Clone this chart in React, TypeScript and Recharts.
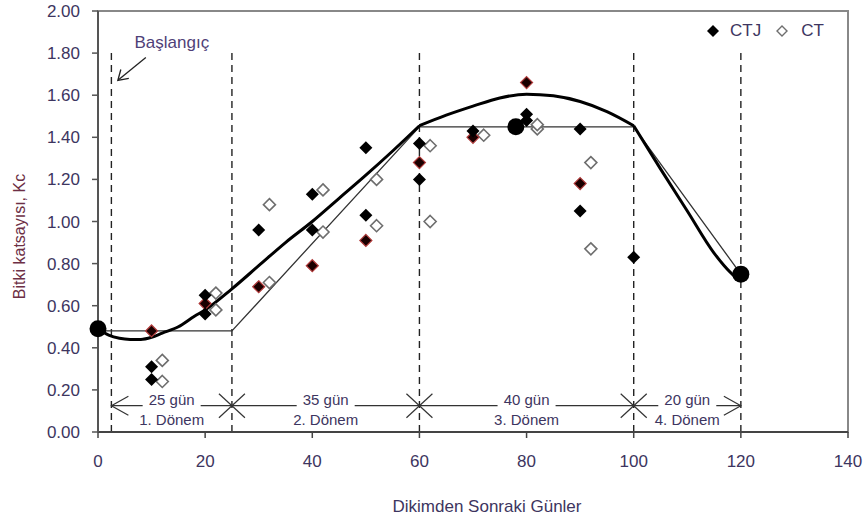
import {
  ComposedChart,
  Line,
  Scatter,
  XAxis,
  YAxis,
  ReferenceLine,
  ReferenceDot,
  ReferenceArea,
  Legend,
} from 'recharts';

const FONT = '"Liberation Sans", Arial, sans-serif';
const TEXT = '#3d3560';

const xTicks = [0, 20, 40, 60, 80, 100, 120, 140];
const yTicks = [0, 0.2, 0.4, 0.6, 0.8, 1.0, 1.2, 1.4, 1.6, 1.8, 2.0];

// CTJ measurements (filled diamonds)
const ctj = [
  { x: 10, y: 0.31 }, { x: 10, y: 0.25 },
  { x: 20, y: 0.65 }, { x: 20, y: 0.56 },
  { x: 30, y: 0.96 },
  { x: 40, y: 1.13 }, { x: 40, y: 0.96 },
  { x: 50, y: 1.35 }, { x: 50, y: 1.03 },
  { x: 60, y: 1.37 }, { x: 60, y: 1.2 },
  { x: 70, y: 1.43 },
  { x: 80, y: 1.51 }, { x: 80, y: 1.48 },
  { x: 90, y: 1.44 }, { x: 90, y: 1.05 },
  { x: 100, y: 0.83 },
];

// dark red edged diamonds (no legend entry)
const ctjRed = [
  { x: 10, y: 0.48 }, { x: 20, y: 0.61 }, { x: 30, y: 0.69 },
  { x: 40, y: 0.79 }, { x: 50, y: 0.91 }, { x: 60, y: 1.28 },
  { x: 70, y: 1.4 }, { x: 80, y: 1.66 }, { x: 90, y: 1.18 },
];

// CT measurements (open diamonds)
const ct = [
  { x: 12, y: 0.34 }, { x: 12, y: 0.24 },
  { x: 22, y: 0.66 }, { x: 22, y: 0.58 },
  { x: 32, y: 1.08 }, { x: 32, y: 0.71 },
  { x: 42, y: 1.15 }, { x: 42, y: 0.95 },
  { x: 52, y: 1.2 }, { x: 52, y: 0.98 },
  { x: 62, y: 1.36 }, { x: 62, y: 1.0 },
  { x: 72, y: 1.41 },
  { x: 82, y: 1.44 }, { x: 82, y: 1.46 },
  { x: 92, y: 1.28 }, { x: 92, y: 0.87 },
];

// Kc reference points (big dots)
const kcPoints = [
  { x: 0, y: 0.49 }, { x: 78, y: 1.45 }, { x: 120, y: 0.75 },
];

// fitted curve (thick), in three pieces so the corners at 60 and 100 stay sharp
const fitEarly = [
  { x: 0, y: 0.49 }, { x: 2, y: 0.46 }, { x: 4, y: 0.445 }, { x: 6, y: 0.44 },
  { x: 8, y: 0.44 }, { x: 10, y: 0.45 }, { x: 12, y: 0.47 }, { x: 15, y: 0.5 },
  { x: 18, y: 0.55 }, { x: 20, y: 0.58 }, { x: 25, y: 0.68 }, { x: 30, y: 0.79 },
  { x: 35, y: 0.9 }, { x: 40, y: 1.0 }, { x: 45, y: 1.11 }, { x: 50, y: 1.22 },
  { x: 55, y: 1.335 }, { x: 60, y: 1.455 },
];
const fitMid = [
  { x: 60, y: 1.455 }, { x: 65, y: 1.505 }, { x: 70, y: 1.548 }, { x: 75, y: 1.587 },
  { x: 80, y: 1.605 }, { x: 85, y: 1.597 }, { x: 90, y: 1.57 },
  { x: 95, y: 1.522 }, { x: 100, y: 1.455 },
];
const fitLate = [
  { x: 100, y: 1.455 }, { x: 105, y: 1.25 }, { x: 110, y: 1.05 }, { x: 115, y: 0.85 },
  { x: 118, y: 0.76 }, { x: 119.5, y: 0.73 }, { x: 120, y: 0.74 },
];

// FAO stage line (thin)
const stageLine = [
  { x: 0, y: 0.48 }, { x: 25, y: 0.48 }, { x: 60, y: 1.45 },
  { x: 100, y: 1.45 }, { x: 120, y: 0.75 },
];

const periods = [
  { start: 2.5, end: 25, days: '25 gün', name: '1. Dönem' },
  { start: 25, end: 60, days: '35 gün', name: '2. Dönem' },
  { start: 60, end: 100, days: '40 gün', name: '3. Dönem' },
  { start: 100, end: 120, days: '20 gün', name: '4. Dönem' },
];
const boundaries = [2.5, 25, 60, 100, 120];
const periodY = 0.125;
const guideTop = 1.8;
const startNote = { x: 3.7, y: 1.67, text: 'Başlangıç' };

const diamond = (cx: number, cy: number, r: number) =>
  `${cx},${cy - r} ${cx + r},${cy} ${cx},${cy + r} ${cx - r},${cy}`;

const FilledDiamond = (p: any) => (
  <polygon points={diamond(p.cx, p.cy, 6.5)} fill="#000" />
);
const RedDiamond = (p: any) => (
  <polygon points={diamond(p.cx, p.cy, 6)} fill="#1a0000" stroke="#b03a3a" strokeWidth={1.2} />
);
const OpenDiamond = (p: any) => (
  <polygon points={diamond(p.cx, p.cy, 6)} fill="#fff" stroke="#6e6e6e" strokeWidth={1.6} />
);
const BigDot = (p: any) => <circle cx={p.cx} cy={p.cy} r={8.5} fill="#000" />;

const boundaryMark = (i: number) => (p: any) => {
  const { cx, cy } = p;
  const s = { stroke: '#333', strokeWidth: 1.2, fill: 'none' };
  if (i === 0) {
    return <polyline points={`${cx + 17},${cy - 9.5} ${cx},${cy} ${cx + 17},${cy + 9.5}`} {...s} />;
  }
  if (i === boundaries.length - 1) {
    return <polyline points={`${cx - 17},${cy - 9.5} ${cx},${cy} ${cx - 17},${cy + 9.5}`} {...s} />;
  }
  return (
    <g {...s}>
      <line x1={cx - 13} y1={cy - 12} x2={cx + 13} y2={cy + 12} />
      <line x1={cx - 13} y1={cy + 12} x2={cx + 13} y2={cy - 12} />
    </g>
  );
};

const periodLabel = (days: string, name: string) => (p: any) => {
  const { cx, cy } = p;
  return (
    <g fontFamily={FONT} fill={TEXT} fontSize={15} textAnchor="middle">
      <rect x={cx - 29} y={cy - 8} width={58} height={12} fill="#fff" />
      <text x={cx} y={cy - 1}>{days}</text>
      <text x={cx} y={cy + 19}>{name}</text>
    </g>
  );
};

const StartNote = (p: any) => {
  const { cx, cy } = p;
  return (
    <g>
      <line x1={cx + 28} y1={cy - 23} x2={cx + 1} y2={cy - 1} stroke="#222" strokeWidth={1.3} />
      <polyline points={`${cx + 3},${cy - 11} ${cx},${cy} ${cx + 11},${cy - 2}`} stroke="#222" strokeWidth={1.3} fill="none" />
      <text x={cx + 54} y={cy - 32} textAnchor="middle" fontFamily={FONT} fontSize={17} fill="#4f3f78">
        {startNote.text}
      </text>
    </g>
  );
};

const YTitle = (p: any) => {
  const vb = p.viewBox;
  const x = vb.x + 19;
  const y = vb.y + vb.height / 2 + 15;
  return (
    <text x={x} y={y} transform={`rotate(-90 ${x} ${y})`} textAnchor="middle" dominantBaseline="central"
      fontFamily={FONT} fontSize={16} fill="#6d2f45">
      Bitki katsayısı, Kc
    </text>
  );
};

const XTitle = (p: any) => {
  const vb = p.viewBox;
  return (
    <text x={vb.x + vb.width / 2 + 14} y={506} textAnchor="middle" dominantBaseline="central"
      fontFamily={FONT} fontSize={17} fill={TEXT}>
      Dikimden Sonraki Günler
    </text>
  );
};

const LegendBox = () => (
  <div style={{ display: 'flex', alignItems: 'center', fontFamily: FONT, fontSize: 17, color: TEXT }}>
    <svg width={14} height={14}><polygon points={diamond(7, 7, 6)} fill="#000" /></svg>
    <span style={{ marginLeft: 10 }}>CTJ</span>
    <svg width={14} height={14} style={{ marginLeft: 14 }}>
      <polygon points={diamond(7, 7, 5)} fill="#fff" stroke="#6e6e6e" strokeWidth={1.4} />
    </svg>
    <span style={{ marginLeft: 12 }}>CT</span>
  </div>
);

export default function App() {
  return (
    <div style={{ position: 'absolute', left: 0, top: 0, background: '#fff' }}>
      <ComposedChart width={868} height={527} margin={{ top: 11, right: 20, bottom: 0, left: 0 }}>
        <XAxis
          type="number"
          dataKey="x"
          domain={[0, 140]}
          ticks={xTicks}
          height={95}
          tickSize={6}
          tickMargin={17}
          tick={{ fill: TEXT, fontSize: 17, fontFamily: FONT }}
          axisLine={{ stroke: '#444', strokeWidth: 2 }}
          tickLine={{ stroke: '#444', strokeWidth: 1.5 }}
          label={<XTitle />}
        />
        <YAxis
          type="number"
          dataKey="y"
          domain={[0, 2]}
          ticks={yTicks}
          width={98}
          tickSize={6}
          tickMargin={12}
          tickFormatter={(v: number) => v.toFixed(2)}
          tick={{ fill: TEXT, fontSize: 17, fontFamily: FONT }}
          axisLine={{ stroke: '#555', strokeWidth: 2 }}
          tickLine={{ stroke: '#555', strokeWidth: 1.5 }}
          label={<YTitle />}
        />
        <ReferenceArea x1={0} x2={140} y1={0} y2={2} fill="none" stroke="#888" strokeWidth={2} />

        {boundaries.map((b) => (
          <ReferenceLine
            key={`v${b}`}
            segment={[{ x: b, y: 0 }, { x: b, y: guideTop }]}
            stroke="#222"
            strokeWidth={1.4}
            strokeDasharray="7 5"
          />
        ))}
        <ReferenceLine
          segment={[{ x: boundaries[0], y: periodY }, { x: boundaries[boundaries.length - 1], y: periodY }]}
          stroke="#333"
          strokeWidth={1.2}
        />
        {boundaries.map((b, i) => (
          <ReferenceDot key={`m${b}`} x={b} y={periodY} r={0} shape={boundaryMark(i)} />
        ))}
        {periods.map((p) => (
          <ReferenceDot
            key={p.name}
            x={(p.start + p.end) / 2}
            y={periodY}
            r={0}
            shape={periodLabel(p.days, p.name)}
          />
        ))}
        <ReferenceDot x={startNote.x} y={startNote.y} r={0} shape={StartNote} />

        <Line data={stageLine} dataKey="y" type="linear" stroke="#333" strokeWidth={1.3} dot={false}
          isAnimationActive={false} legendType="none" />
        {[fitEarly, fitMid, fitLate].map((seg, i) => (
          <Line key={`fit${i}`} data={seg} dataKey="y" type="monotone" stroke="#000" strokeWidth={3}
            dot={false} isAnimationActive={false} legendType="none" />
        ))}

        <Scatter data={ct} name="CT" shape={OpenDiamond} isAnimationActive={false} />
        <Scatter data={ctjRed} shape={RedDiamond} isAnimationActive={false} legendType="none" />
        <Scatter data={ctj} name="CTJ" shape={FilledDiamond} isAnimationActive={false} />
        <Scatter data={kcPoints} shape={BigDot} isAnimationActive={false} legendType="none" />

        <Legend
          layout="vertical"
          align="center"
          verticalAlign="middle"
          content={<LegendBox />}
          wrapperStyle={{ top: 21, left: 706, width: 140, height: 18 }}
        />
      </ComposedChart>
    </div>
  );
}
